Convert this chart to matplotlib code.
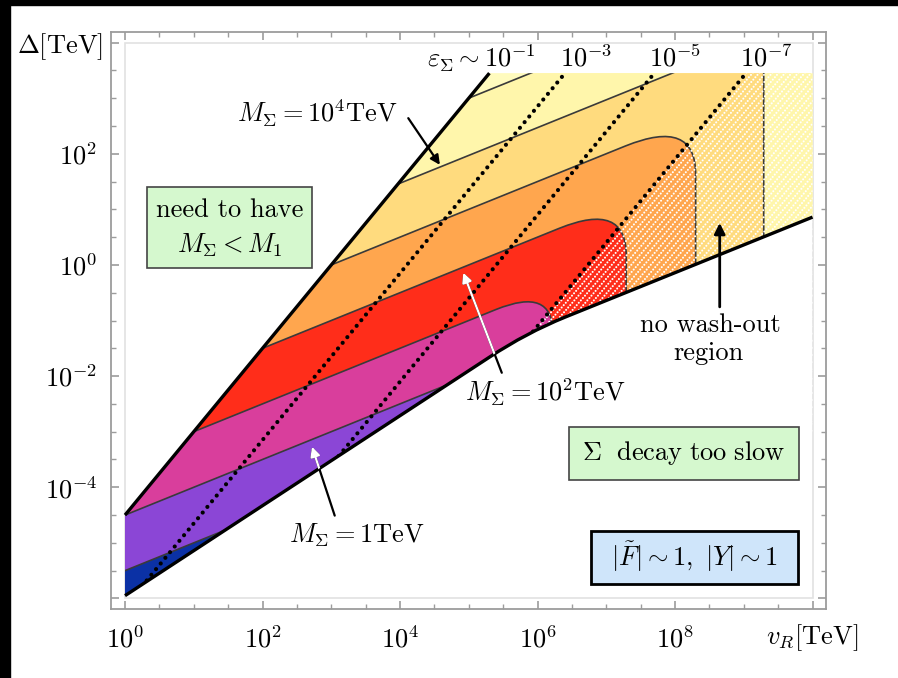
import numpy as np
import matplotlib.pyplot as plt
from matplotlib.path import Path
from matplotlib.patches import PathPatch, Rectangle
from matplotlib.ticker import NullFormatter

plt.rcParams['mathtext.fontset'] = 'cm'
plt.rcParams['font.family'] = ['cmr10', 'DejaVu Serif']
plt.rcParams['axes.unicode_minus'] = False

# all values are log10 of the quantity in TeV
# allowed strip in the (v_R, Delta) plane
upper_edge_logv = [0.0, 5.3]
upper_edge_logd = [-4.5, 3.45]
lower_edge_logv = [0.0, 5.3, 5.84, 6.4, 10.0]      # 5.84 = knee control point
lower_edge_logd = [-5.95, -1.66, -1.22, -0.94, 0.86]
delta_top = 3.45
vr_right = 10.0

# M_Sigma contours: log Delta = offset + 0.5 log v_R, turning vertical at large v_R
m_slope = 0.5
m_sigma_exp = [-1, 0, 1, 2, 3, 4, 5]
m_sigma_offset = [-5.5, -4.5, -3.5, -2.5, -1.5, -0.53, 0.5]
m_sigma_turn = [None, None, 6.22, 7.29, 8.30, 9.29, None]
m_sigma_bend = [None, None, 0.82, 0.97, 1.02, 0.6, None]
band_colors = ['#0B31A5', '#8B46D6', '#D93E9C', '#FF2D1A',
               '#FFA64E', '#FFDB7E', '#FFF6AB']
top_color = '#FFFBBE'

# eps_Sigma lines: log Delta = 1.5 log v_R + offset
eps_slope = 1.5
eps_exp = [-3, -5, -7]
eps_offset = [-6.15, -8.1, -10.1]

x_tick_exp = [0, 2, 4, 6, 8, 10]
x_tick_labels = ['$10^{0}$', '$10^{2}$', '$10^{4}$', '$10^{6}$', '$10^{8}$', '']
y_tick_exp = [-6, -4, -2, 0, 2, 4]
y_tick_labels = ['', '$10^{-4}$', '$10^{-2}$', '$10^{0}$', '$10^{2}$', '']


def P(u, v):
    return (10.0 ** u, 10.0 ** v)


def contour_path(offset, turn, bend):
    line = lambda u: offset + m_slope * u
    if turn is None:
        verts = [P(-1, line(-1)), P(12, line(12)), P(12, -8), P(-1, -8), P(-1, line(-1))]
        codes = [Path.MOVETO, Path.LINETO, Path.LINETO, Path.LINETO, Path.CLOSEPOLY]
    else:
        verts = [P(-1, line(-1)), P(turn - bend, line(turn - bend)),
                 P(turn, line(turn)), P(turn, line(turn) - bend),
                 P(turn, -8), P(-1, -8), P(-1, line(-1))]
        codes = [Path.MOVETO, Path.LINETO, Path.CURVE3, Path.CURVE3,
                 Path.LINETO, Path.LINETO, Path.CLOSEPOLY]
    return Path(verts, codes)


lower_codes = [Path.MOVETO, Path.LINETO, Path.CURVE3, Path.CURVE3, Path.LINETO]
lower_verts = [P(u, v) for u, v in zip(lower_edge_logv, lower_edge_logd)]
lower_path = Path(lower_verts, lower_codes)
region_path = Path(lower_verts + [P(vr_right, delta_top), P(upper_edge_logv[1], delta_top),
                                  P(upper_edge_logv[0], upper_edge_logd[0]), (0, 0)],
                   lower_codes + [Path.LINETO, Path.LINETO, Path.LINETO, Path.CLOSEPOLY])

fig = plt.figure(figsize=(8.98, 6.78), dpi=100)
ax = fig.add_axes([111 / 898, 69 / 678, 715 / 898, 577 / 678])
ax.set_xscale('log')
ax.set_yscale('log')
ax.set_xlim(10 ** -0.204, 10 ** 10.196)
ax.set_ylim(10 ** -6.19, 10 ** 4.19)

region = PathPatch(region_path, transform=ax.transData, facecolor=top_color,
                   edgecolor='none', zorder=1)
ax.add_patch(region)

# bands, painted from the largest M_Sigma downwards
for k in range(len(m_sigma_exp) - 1, -1, -1):
    path = contour_path(m_sigma_offset[k], m_sigma_turn[k], m_sigma_bend[k])
    patch = PathPatch(path, facecolor=band_colors[k], edgecolor='#3a3a3a',
                      lw=1.2, zorder=2)
    ax.add_patch(patch)
    patch.set_clip_path(region)

# white dotted hatching of the no wash-out region
b7 = eps_offset[eps_exp.index(-7)]
hatch_verts = [P((-3 - b7) / eps_slope, -3), P((delta_top - b7) / eps_slope, delta_top),
               P(vr_right, delta_top), P(vr_right, -3), (0, 0)]
hatch_patch = PathPatch(Path(hatch_verts, [Path.MOVETO] + [Path.LINETO] * 3 + [Path.CLOSEPOLY]),
                        transform=ax.transData, facecolor='none', edgecolor='none')
ax.add_patch(hatch_patch)
aspect = 715 / 577
for x0 in np.arange(-1.6, 1.0, 6.5 / 715):
    hl, = ax.plot([x0, x0 + 1.0], [0, 1.15 * aspect], transform=ax.transAxes,
                  color='white', lw=1.5, ls=(0, (0.01, 1.5)), dash_capstyle='round',
                  zorder=3)
    hl.set_clip_path(hatch_patch)

# eps_Sigma dotted lines
for b in eps_offset:
    u = np.array([(-7 - b) / eps_slope, (delta_top - b) / eps_slope])
    el, = ax.plot(10.0 ** u, 10.0 ** (eps_slope * u + b), color='black', lw=3.0,
                  ls=(0, (0.01, 1.75)), dash_capstyle='round', zorder=4)
    el.set_clip_path(region)

# edges of the allowed strip
ax.plot(10.0 ** np.array(upper_edge_logv), 10.0 ** np.array(upper_edge_logd),
        color='black', lw=2.4, zorder=5, solid_capstyle='butt')
ax.add_patch(PathPatch(lower_path, facecolor='none', edgecolor='black', lw=2.4, zorder=5))

# frame
ax.add_patch(Rectangle((1, 1e-6), 1e10 - 1, 1e4 - 1e-6, fill=False,
                       ec='#e2e2e2', lw=1.2, zorder=0))
for s in ax.spines.values():
    s.set_color('#9c9c9c')
    s.set_linewidth(1.3)
ax.set_xticks([10.0 ** e for e in x_tick_exp], x_tick_labels)
ax.set_yticks([10.0 ** e for e in y_tick_exp], y_tick_labels)
ax.set_xticks([10.0 ** (e + 0.5 * i) for e in range(0, 10, 2) for i in (1, 2, 3)], minor=True)
ax.set_yticks([10.0 ** (e + 0.5 * i) for e in range(-6, 4, 2) for i in (1, 2, 3)], minor=True)
ax.xaxis.set_minor_formatter(NullFormatter())
ax.yaxis.set_minor_formatter(NullFormatter())
ax.tick_params(which='both', direction='in', top=True, right=True, color='#9c9c9c',
               labelsize=19)
ax.tick_params(which='major', length=6, width=1.2, pad=12)
ax.tick_params(which='minor', length=3.5, width=1.0)
ax.tick_params(axis='y', pad=10)

fs = 19
ax.text(10 ** 10, -0.05, r'$v_R[\mathrm{TeV}]$', transform=ax.get_xaxis_transform(),
        ha='center', va='center', fontsize=fs)
fig.text(103 / 898, 1 - 47 / 678, r'$\Delta[\mathrm{TeV}]$', ha='right', va='center', fontsize=fs)

# eps labels along the top
ax.text(10 ** 5.19, 10 ** 3.72, r'$\varepsilon_\Sigma\sim 10^{-1}$', ha='center', va='center', fontsize=fs)
for e, b in zip(eps_exp, eps_offset):
    u_top = (delta_top - b) / eps_slope
    ax.text(10 ** (u_top + 0.3), 10 ** 3.72, r'$10^{%d}$' % e, ha='center', va='center', fontsize=fs)

# M_Sigma annotations
ax.text(10 ** 3.97, 10 ** 2.73, r'$M_\Sigma = 10^4\mathrm{TeV}$', ha='right', va='center', fontsize=fs)
ax.annotate('', xy=P(4.58, 1.80), xytext=P(4.12, 2.64),
            arrowprops=dict(arrowstyle='-|>', color='black', lw=1.6, mutation_scale=14,
                            shrinkA=0, shrinkB=0), zorder=6)

ax.text(10 ** 3.37, 10 ** -4.86, r'$M_\Sigma = 1\mathrm{TeV}$', ha='center', va='center', fontsize=fs)
ax.text(10 ** 6.11, 10 ** -2.30, r'$M_\Sigma = 10^2\mathrm{TeV}$', ha='center', va='center', fontsize=fs)
for tip, tail in [((2.72, -3.27), (3.05, -4.51)), ((4.92, -0.14), (5.48, -1.94))]:
    for col in ('black', 'white'):
        an = ax.annotate('', xy=P(*tip), xytext=P(*tail),
                         arrowprops=dict(arrowstyle='-|>', color=col, lw=1.6, mutation_scale=14,
                                         shrinkA=0, shrinkB=0), zorder=6)
        if col == 'white':
            an.arrow_patch.set_clip_path(region)

ax.text(10 ** 8.51, 10 ** -1.08, 'no wash-out', ha='center', va='center', fontsize=fs)
ax.text(10 ** 8.49, 10 ** -1.58, 'region', ha='center', va='center', fontsize=fs)
ax.annotate('', xy=P(8.65, 0.755), xytext=P(8.65, -0.755),
            arrowprops=dict(arrowstyle='-|>', color='black', lw=2.0, mutation_scale=16,
                            shrinkA=0, shrinkB=0), zorder=6)

# boxes
def box(x0, y0, x1, y1, fc, ec, lw):
    ax.add_patch(Rectangle((x0, y0), x1 - x0, y1 - y0, transform=ax.transAxes,
                           facecolor=fc, edgecolor=ec, lw=lw, zorder=6))

box(0.0503, 0.591, 0.2811, 0.7314, '#D5F8CE', '#444444', 1.2)
ax.text(0.1657, 0.6915, 'need to have', transform=ax.transAxes, ha='center', va='center',
        fontsize=fs, zorder=7)
ax.text(0.1657, 0.6308, r'$M_\Sigma < M_1$', transform=ax.transAxes, ha='center', va='center',
        fontsize=fs, zorder=7)

box(0.6406, 0.2236, 0.9622, 0.3154, '#D5F8CE', '#444444', 1.2)
ax.text(0.8014, 0.2704, r'$\Sigma\ \ \mathrm{decay\ too\ slow}$', transform=ax.transAxes,
        ha='center', va='center', fontsize=fs, zorder=7)

box(0.6713, 0.0433, 0.9608, 0.1352, '#CFE5FA', 'black', 2.0)
ax.text(0.8168, 0.0901, r'$|\tilde{F}|\sim 1,\ |Y|\sim 1$', transform=ax.transAxes,
        ha='center', va='center', fontsize=fs, zorder=7)

# dark margins
fig.add_artist(Rectangle((0, 0), 10 / 898, 1, transform=fig.transFigure, color='black'))
fig.add_artist(Rectangle((0, 1 - 5 / 678), 1, 5 / 678, transform=fig.transFigure, color='black'))

fig.savefig('out.png', dpi=100)
